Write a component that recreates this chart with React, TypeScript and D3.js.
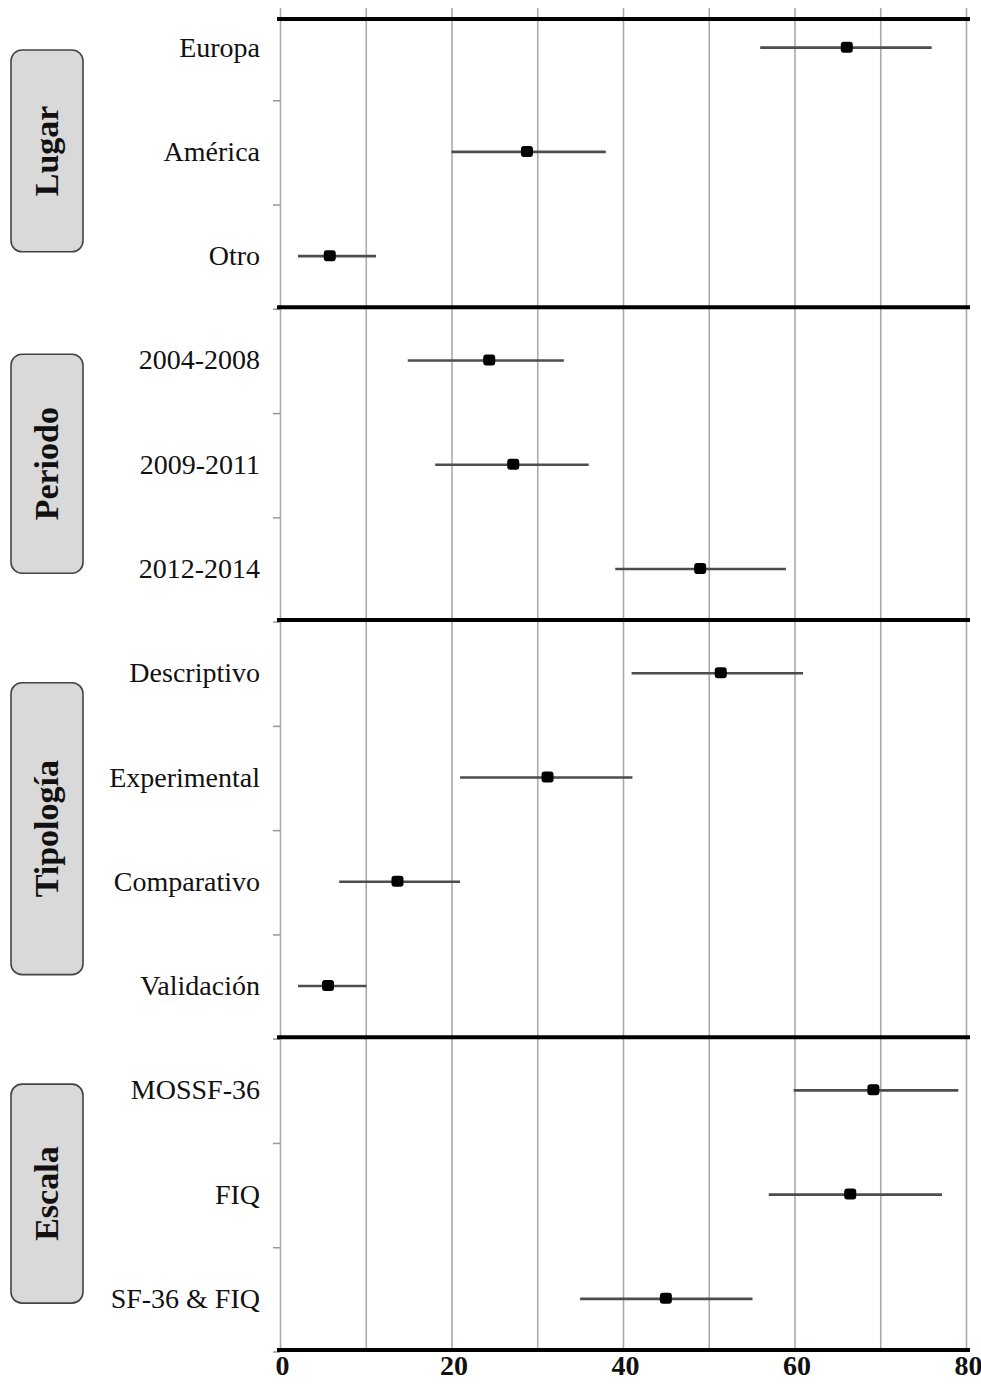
import React, { useEffect, useRef } from "react";
import { select, scaleLinear, scaleBand, axisBottom, range } from "d3";

const width = 981;
const height = 1387;
const margin = { top: 19, right: 14, bottom: 37, left: 280 };

const groups = ["Lugar", "Periodo", "Tipología", "Escala"];
const groupSizes = [3, 3, 4, 3];
const categories = [
  "Europa",
  "América",
  "Otro",
  "2004-2008",
  "2009-2011",
  "2012-2014",
  "Descriptivo",
  "Experimental",
  "Comparativo",
  "Validación",
  "MOSSF-36",
  "FIQ",
  "SF-36 & FIQ",
];
const estimates = [66.1, 28.8, 5.8, 24.4, 27.2, 49.0, 51.4, 31.2, 13.7, 5.6, 69.2, 66.5, 45.0];
const lower = [56.0, 20.0, 2.1, 14.9, 18.1, 39.1, 41.0, 21.0, 6.9, 2.1, 59.9, 57.0, 35.0];
const upper = [76.0, 38.0, 11.2, 33.1, 36.0, 59.0, 61.0, 41.1, 21.0, 10.1, 79.1, 77.2, 55.1];
const xTickLabels = [0, 20, 40, 60, 80];

const serif = "'Liberation Serif', 'Times New Roman', serif";

const App = () => {
  const ref = useRef<SVGSVGElement>(null);

  useEffect(() => {
    const svg = select(ref.current);
    svg.selectAll("*").remove();

    const plotBottom = height - margin.bottom;

    const x = scaleLinear()
      .domain([0, 80])
      .range([margin.left, width - margin.right - 1]);

    // first band starts above the visible plot, as in the original
    const y = scaleBand<string>()
      .domain(categories)
      .range([-5.5, plotBottom])
      .paddingInner(0)
      .paddingOuter(0);

    const bw = y.bandwidth();
    const yc = (c: string) => (y(c) as number) + bw / 2;

    // vertical grid
    svg
      .append("g")
      .attr("transform", `translate(0,${plotBottom})`)
      .call(
        axisBottom(x)
          .tickValues(range(0, 81, 10))
          .tickSize(-(plotBottom - 8))
          .tickFormat(() => "")
      )
      .call((g) => g.select(".domain").remove())
      .call((g) =>
        g.selectAll(".tick line").attr("stroke", "#aaa").attr("stroke-width", 1.6)
      );

    // small ticks on the left at band boundaries
    svg
      .append("g")
      .selectAll("line")
      .data(categories.slice(1).concat(["__end"]))
      .join("line")
      .attr("x1", margin.left - 7)
      .attr("x2", margin.left)
      .attr("y1", (d) => (d === "__end" ? plotBottom : (y(d) as number)) + 2)
      .attr("y2", (d) => (d === "__end" ? plotBottom : (y(d) as number)) + 2)
      .attr("stroke", "#999")
      .attr("stroke-width", 1.5);

    // group separators
    let idx = 0;
    const sepY: number[] = [margin.top];
    const groupInfo = groups.map((name, i) => {
      const first = categories[idx];
      const last = categories[idx + groupSizes[i] - 1];
      idx += groupSizes[i];
      const bottom = idx < categories.length ? (y(categories[idx]) as number) : plotBottom;
      sepY.push(bottom);
      return { name, first, last, bottom };
    });

    svg
      .append("g")
      .selectAll("line")
      .data(sepY)
      .join("line")
      .attr("x1", margin.left - 3)
      .attr("x2", width - margin.right + 3)
      .attr("y1", (d) => d)
      .attr("y2", (d) => d)
      .attr("stroke", "#000")
      .attr("stroke-width", 4);

    // error bars
    svg
      .append("g")
      .selectAll("line")
      .data(categories)
      .join("line")
      .attr("x1", (_, i) => x(lower[i]))
      .attr("x2", (_, i) => x(upper[i]))
      .attr("y1", (d) => yc(d) + 1)
      .attr("y2", (d) => yc(d) + 1)
      .attr("stroke", "#4d4d4d")
      .attr("stroke-width", 2.6);

    // point estimates
    svg
      .append("g")
      .selectAll("rect")
      .data(categories)
      .join("rect")
      .attr("x", (_, i) => x(estimates[i]) - 6)
      .attr("y", (d) => yc(d) - 5)
      .attr("width", 12)
      .attr("height", 11)
      .attr("rx", 3)
      .attr("fill", "#000");

    // category labels
    svg
      .append("g")
      .selectAll("text")
      .data(categories)
      .join("text")
      .attr("x", margin.left - 20)
      .attr("y", (d) => yc(d) + 10)
      .attr("text-anchor", "end")
      .attr("font-family", serif)
      .attr("font-size", 28)
      .attr("fill", "#111")
      .text((d) => d);

    // group boxes
    const boxes = svg
      .append("g")
      .selectAll("g")
      .data(groupInfo)
      .join("g")
      .attr("transform", (d) => {
        const cy = (yc(d.first) + yc(d.last)) / 2;
        return `translate(47,${cy})`;
      });

    boxes
      .append("rect")
      .attr("x", -36)
      .attr("width", 72)
      .attr("y", (d, i) => -(0.7 * (d.bottom - sepY[i])) / 2)
      .attr("height", (d, i) => 0.7 * (d.bottom - sepY[i]))
      .attr("rx", 11)
      .attr("fill", "#d9d9d9")
      .attr("stroke", "#444")
      .attr("stroke-width", 1.6);

    boxes
      .append("text")
      .attr("transform", "rotate(-90)")
      .attr("text-anchor", "middle")
      .attr("y", 11)
      .attr("font-family", serif)
      .attr("font-weight", "bold")
      .attr("font-size", 34)
      .attr("fill", "#111")
      .text((d) => d.name);

    // x axis labels
    svg
      .append("g")
      .attr("transform", `translate(0,${plotBottom})`)
      .call(
        axisBottom(x)
          .tickValues(xTickLabels)
          .tickSize(0)
          .tickPadding(5)
      )
      .call((g) => g.select(".domain").remove())
      .call((g) =>
        g
          .selectAll(".tick text")
          .attr("font-family", serif)
          .attr("font-weight", "bold")
          .attr("font-size", 28)
          .attr("fill", "#111")
          .attr("dx", 2)
      );
  }, []);

  return (
    <svg
      ref={ref}
      width={width}
      height={height}
      style={{ position: "absolute", left: 0, top: 0, background: "#fff" }}
    />
  );
};

export default App;
